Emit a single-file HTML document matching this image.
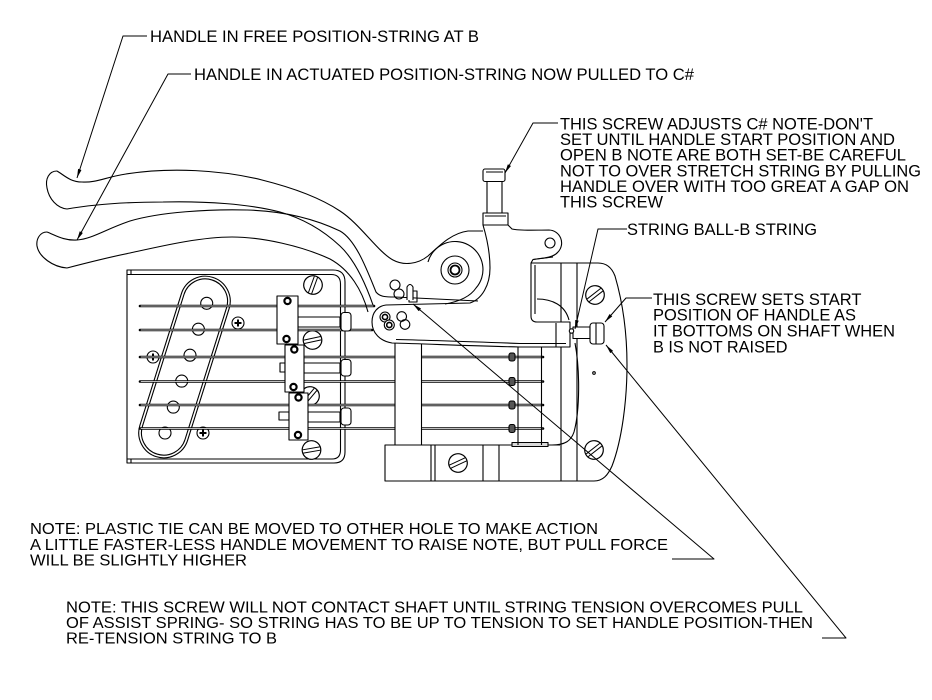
<!DOCTYPE html>
<html>
<head>
<meta charset="utf-8">
<style>
html,body{margin:0;padding:0;background:#fff;}
svg{display:block;}
text{font-family:"Liberation Sans",Arial,sans-serif;fill:#000;stroke:none;}
</style>
</head>
<body>
<svg width="932" height="700" viewBox="0 0 932 700" xmlns="http://www.w3.org/2000/svg">
<defs>
  <marker id="ar" viewBox="0 0 10 4" refX="10" refY="2" markerWidth="10" markerHeight="3.6" orient="auto" markerUnits="userSpaceOnUse">
    <path d="M0,0L10,2L0,4z" fill="#000"/>
  </marker>
  <g id="ss">
    <circle r="9.3" fill="#fff" stroke="#000" stroke-width="1.2"/>
    <path d="M-8.6,-1.7H8.6M-8.6,1.7H8.6" stroke="#000" stroke-width="1"/>
  </g>
  <g id="ph">
    <circle r="6" fill="#fff" stroke="#000" stroke-width="1.1"/>
    <path d="M-3.5,0H3.5M0,-3.5V3.5" stroke="#000" stroke-width="2"/>
  </g>
</defs>

<rect width="932" height="700" fill="#fff"/>

<g fill="none" stroke="#000" stroke-width="1.1" stroke-linejoin="round">

<!-- ===== right body / housing ===== -->
<path d="M530,263 H598 C607,263 612,268 615,276 C622,300 627,330 627,365 C627,400 622,440 612,466 C608,475 603,481 594,481 H385 V445 H560" fill="#fff"/>
<path d="M561,263 V481 M577,263 V481"/>
<path d="M575,343 C580,370 580,410 574,432 C571,441 565,445 552,445 L542,445"/>
<circle cx="594" cy="373" r="1.3"/>
<use href="#ss" transform="translate(595,295) rotate(-38)"/>
<use href="#ss" transform="translate(594,450) rotate(-38)"/>

<!-- base block -->
<path d="M431,445 V481 M435,445 V481 M483,445 V481 M499,445 V481"/>
<use href="#ss" transform="translate(458,463) rotate(-25)"/>
<rect x="512" y="442.5" width="36" height="4" fill="#d8d8d8"/>

<!-- ===== plate ===== -->
<path d="M127,270 H333 Q345,270 345,282 V452 Q345,463 334,463 H127 Z" fill="#fff"/>
<path d="M127,274.5 H331 Q340.5,274.5 340.5,284 V450 Q340.5,459 332,459 H127"/>
<path d="M131,270 V274.5 M131,459 V463"/>

<!-- pickup -->
<g transform="rotate(17.5 184.5 367)">
  <rect x="159.5" y="273" width="50" height="188" rx="25" fill="#fff"/>
  <rect x="162.2" y="275.7" width="44.6" height="182.6" rx="22.3"/>
</g>
<circle cx="206.7" cy="303.3" r="6"/>
<circle cx="198.4" cy="329.2" r="6"/>
<circle cx="190" cy="355.2" r="6"/>
<circle cx="181.7" cy="381.1" r="6"/>
<circle cx="173.3" cy="407.1" r="6"/>
<circle cx="165" cy="433" r="6"/>

<use href="#ph" x="238" y="323"/>
<use href="#ph" x="153" y="357"/>
<use href="#ph" x="203" y="433"/>

<use href="#ss" transform="translate(313,285) rotate(-70)"/>
<use href="#ss" transform="translate(312.5,340) rotate(-12)"/>
<use href="#ss" transform="translate(310,396) rotate(-50)"/>
<use href="#ss" transform="translate(311.5,450) rotate(-10)"/>

<!-- ===== strings ===== -->
<g stroke-linecap="round">
  <path stroke="#000" stroke-width="2.6" d="M140,306H374M140,330H372M140,357H543M140,381.5H543M140,405H543M140,428.5H543"/>
  <path stroke="#fff" stroke-width="0.7" d="M141,306H373M141,330H371M141,357H542M141,381.5H542M141,405H542M141,428.5H542"/>
</g>

<!-- ===== saddles ===== -->
<g fill="#fff">
  <rect x="298" y="317" width="42" height="10"/>
  <rect x="341" y="312.5" width="10" height="18.5" rx="3"/>
  <rect x="277" y="296" width="21" height="48"/>
  <rect x="304" y="363" width="36" height="10"/>
  <rect x="341" y="359.5" width="10" height="16.5" rx="3"/>
  <rect x="280" y="363" width="5" height="9"/>
  <rect x="285" y="345" width="19" height="47"/>
  <rect x="308" y="412" width="32" height="10"/>
  <rect x="341" y="408" width="10" height="17" rx="3"/>
  <rect x="279" y="412" width="10" height="8"/>
  <rect x="289" y="393" width="19" height="47"/>
</g>
<g fill="#fff" stroke-width="2.2">
  <circle cx="287.5" cy="301" r="3.1"/>
  <circle cx="286.5" cy="339" r="3.1"/>
  <circle cx="294.3" cy="349.5" r="3.1"/>
  <circle cx="293.5" cy="387" r="3.1"/>
  <circle cx="298.5" cy="397.5" r="3.1"/>
  <circle cx="298" cy="435" r="3.1"/>
</g>

<!-- ===== post & ball ends ===== -->
<rect x="395" y="342" width="26.5" height="103" fill="#fff"/>
<path d="M518,347 V445 M541.5,347 V445"/>
<g fill="#555">
  <rect x="509" y="353" width="6" height="8" rx="2"/>
  <rect x="509" y="377.5" width="6" height="8" rx="2"/>
  <rect x="509" y="401" width="6" height="8" rx="2"/>
  <rect x="509" y="424.5" width="6" height="8" rx="2"/>
</g>

<!-- ===== lever block / link ===== -->
<path d="M483,225 L508,225 L512,229 C520,231 535,230 549,230 A13,13 0 0 1 558,252 C554,257 546,258 540,258.5 L533,259.5 L531,263 L531,316 Q531,322 537,322 L570,322 L570,347 L520,347 C470,346 430,344 392,343 C380,341 372,333 372,322 C372,312 378,306 386,305 L470,303 C482,299 490,285 490,268 C490,250 486,235 483,225 Z" fill="#fff"/>
<circle cx="550" cy="243" r="5"/>
<path d="M535,265 V314 M537,299 C552,299 565,305 569,320 M556,323 V347 M396,339.5 C440,340.5 480,342 520,343.5 L566,343.5"/>
<path d="M533,259.5 L553,257"/>

<!-- top adjusting screw -->
<rect x="487" y="181" width="15" height="32" fill="#fff"/>
<rect x="483" y="169" width="22" height="12.5" rx="2" fill="#fff"/>
<path d="M486,172 H503"/>
<rect x="483" y="213" width="25" height="12" fill="#fff"/>
<path d="M485,216 H506"/>

<!-- start position screw -->
<rect x="573" y="327" width="17" height="11.5" fill="#fff"/>
<rect x="590" y="323" width="14" height="21" rx="3" fill="#fff"/>
<path d="M596,323 V344"/>
<circle cx="571.5" cy="331" r="2.2" fill="#fff"/>

<!-- ===== handles ===== -->
<!-- upper (free) -->
<path d="M57,171 C64,175 70,182 82,182 C96,183 106,177 126,174 C170,167 222,170 262,180 C298,189 322,199 340,211 C360,224 378,252 393,260 C404,266 418,264 428,256 C440,245 452,233 468,231 L483,231"/>
<path d="M57,171 C49,171 45,179 47,188 C49,199 57,208 67,209"/>
<path d="M67,209 C90,205 125,202 163,202 C205,201 250,204 280,212 C305,219 325,232 340,246 C355,260 366,285 373,305"/>
<!-- lower (actuated) -->
<path d="M47,232 C40,232 36,239 37,246 C39,257 53,267 67,268"/>
<path d="M47,232 C55,235 64,241 77,240 C92,239 106,229 130,221 C160,212 210,209 247,210 C283,211 315,219 340,231 C356,240 367,270 376,292 C380,297 386,297 395,297 L478,301"/>
<path d="M67,268 C90,262 110,257 130,253 C162,246 200,237 232,237 C262,237 302,246 330,259 C350,270 362,290 368,312"/>

<!-- hub -->
<path d="M428,262 A28,28 0 1 1 476,288 Q468,300 445,304"/>
<circle cx="455" cy="270" r="14"/>
<circle cx="455" cy="270" r="7"/>
<circle cx="455" cy="270" r="4.5" stroke-width="1.8"/>

<!-- link holes & pins -->
<circle cx="385" cy="317" r="5" fill="#fff"/>
<circle cx="389.3" cy="325" r="5" fill="#fff"/>
<circle cx="385" cy="317" r="2.6" stroke-width="1.6"/>
<circle cx="389.3" cy="325" r="2.6" stroke-width="1.6"/>
<circle cx="401.7" cy="316.5" r="4.8"/>
<circle cx="405" cy="324.5" r="4.8"/>
<circle cx="395" cy="285" r="5"/>
<circle cx="399" cy="294" r="5"/>
<path d="M407,300 V287 Q410,282 413,287 V300" fill="#fff"/>
<path d="M413,291 H417 V302 H409 V300"/>

<!-- ===== leaders ===== -->
<g stroke-width="1" marker-end="url(#ar)">
  <path d="M147,36 H123 L77,178"/>
  <path d="M191,74 H168 L77,240"/>
  <path d="M558,123 H533 L505,173"/>
  <path d="M627,229 H598 L575,329"/>
  <path d="M652,298 H626 L605,322"/>
  <path d="M672,559 H714 L413,304"/>
  <path d="M822,638 H846 L606,345"/>
</g>
</g>

<!-- ===== text ===== -->
<text x="150" y="42" font-size="16.4" textLength="329" lengthAdjust="spacingAndGlyphs">HANDLE IN FREE POSITION-STRING AT B</text>
<text x="194" y="80" font-size="16.4" textLength="500" lengthAdjust="spacingAndGlyphs">HANDLE IN ACTUATED POSITION-STRING NOW PULLED TO C#</text>

<text x="560" y="129.3" font-size="16.4" textLength="313" lengthAdjust="spacingAndGlyphs">THIS SCREW ADJUSTS C# NOTE-DON'T</text>
<text x="560" y="145" font-size="16.4" textLength="335" lengthAdjust="spacingAndGlyphs">SET UNTIL HANDLE START POSITION AND</text>
<text x="560" y="160.7" font-size="16.4" textLength="346" lengthAdjust="spacingAndGlyphs">OPEN B NOTE ARE BOTH SET-BE CAREFUL</text>
<text x="560" y="176.3" font-size="16.4" textLength="361" lengthAdjust="spacingAndGlyphs">NOT TO OVER STRETCH STRING BY PULLING</text>
<text x="560" y="192" font-size="16.4" textLength="349" lengthAdjust="spacingAndGlyphs">HANDLE OVER WITH TOO GREAT A GAP ON</text>
<text x="560" y="207.5" font-size="16.4" textLength="103" lengthAdjust="spacingAndGlyphs">THIS SCREW</text>

<text x="627" y="235" font-size="16.4" textLength="190" lengthAdjust="spacingAndGlyphs">STRING BALL-B STRING</text>

<text x="653" y="305" font-size="16.4" textLength="208.5" lengthAdjust="spacingAndGlyphs">THIS SCREW SETS START</text>
<text x="653" y="320.7" font-size="16.4" textLength="203" lengthAdjust="spacingAndGlyphs">POSITION OF HANDLE AS</text>
<text x="653" y="336.7" font-size="16.4" textLength="242" lengthAdjust="spacingAndGlyphs">IT BOTTOMS ON SHAFT WHEN</text>
<text x="653" y="352.7" font-size="16.4" textLength="134.5" lengthAdjust="spacingAndGlyphs">B IS NOT RAISED</text>

<text x="30" y="534" font-size="15.5" textLength="568" lengthAdjust="spacingAndGlyphs">NOTE: PLASTIC TIE CAN BE MOVED TO OTHER HOLE TO MAKE ACTION</text>
<text x="30" y="550" font-size="15.5" textLength="638" lengthAdjust="spacingAndGlyphs">A LITTLE FASTER-LESS HANDLE MOVEMENT TO RAISE NOTE, BUT PULL FORCE</text>
<text x="30" y="565.5" font-size="15.5" textLength="217" lengthAdjust="spacingAndGlyphs">WILL BE SLIGHTLY HIGHER</text>

<text x="66" y="612.3" font-size="15.5" textLength="737" lengthAdjust="spacingAndGlyphs">NOTE: THIS SCREW WILL NOT CONTACT SHAFT UNTIL STRING TENSION OVERCOMES PULL</text>
<text x="66" y="628" font-size="15.5" textLength="747" lengthAdjust="spacingAndGlyphs">OF ASSIST SPRING- SO STRING HAS TO BE UP TO TENSION TO SET HANDLE POSITION-THEN</text>
<text x="66" y="643.5" font-size="15.5" textLength="211" lengthAdjust="spacingAndGlyphs">RE-TENSION STRING TO B</text>

</svg>
</body>
</html>
